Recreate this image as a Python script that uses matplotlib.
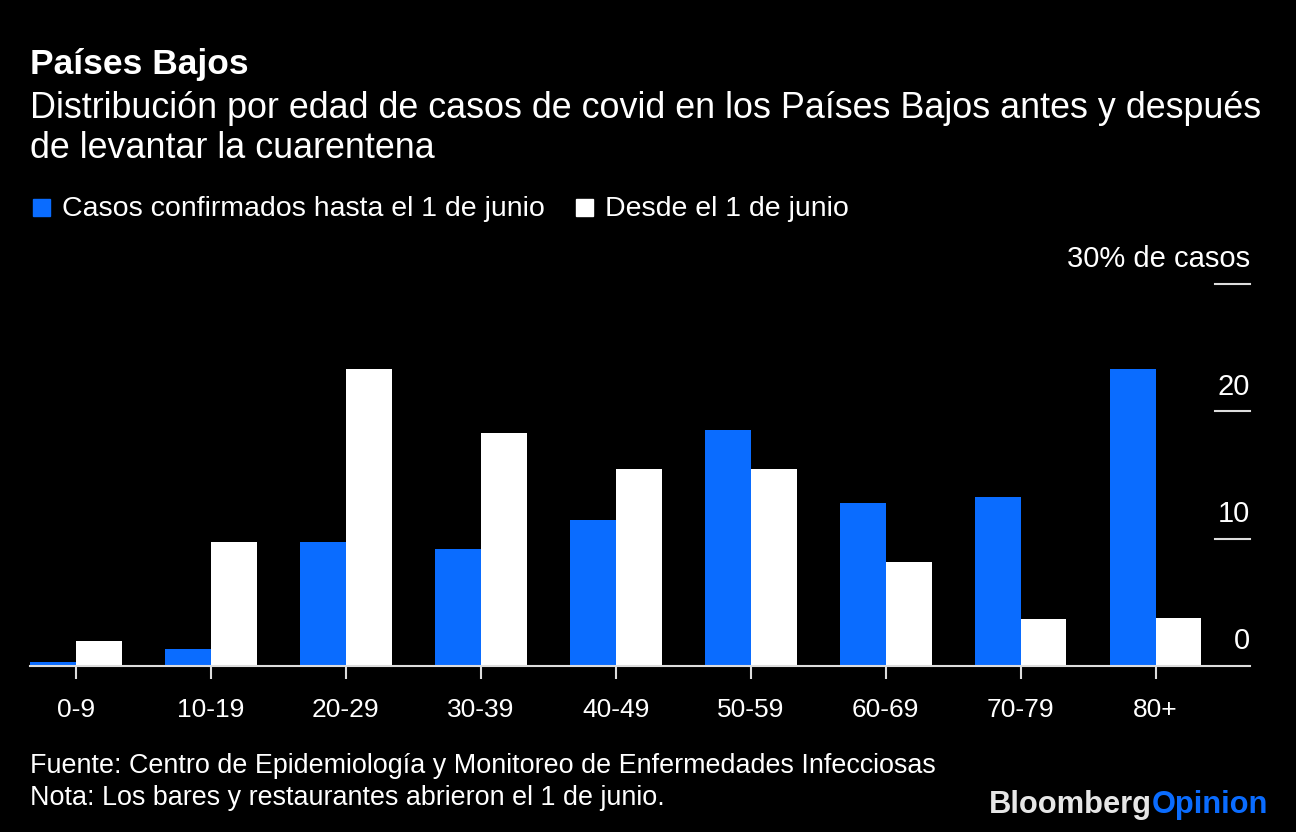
import numpy as np
import matplotlib.pyplot as plt
from matplotlib.transforms import blended_transform_factory, offset_copy

plt.rcParams['font.family'] = ['Liberation Sans', 'DejaVu Sans']

# Data (% of cases by age group)
age_groups = ['0-9', '10-19', '20-29', '30-39', '40-49', '50-59', '60-69', '70-79', '80+']
before_june = [0.3, 1.3, 9.7, 9.2, 11.5, 18.5, 12.8, 13.3, 23.3]
since_june = [2.0, 9.7, 23.3, 18.3, 15.5, 15.5, 8.2, 3.7, 3.8]
y_ticks = [0, 10, 20, 30]
y_labels = ['0', '10', '20', '30% de casos']

BLUE = '#0a6cff'
BG = '#000000'
W, H = 1296, 832

fig = plt.figure(figsize=(W / 100, H / 100), dpi=100, facecolor=BG)
ax = fig.add_axes([30 / W, 1 - 666 / H, 1220 / W, 382 / H])
ax.set_facecolor(BG)

x = np.arange(len(age_groups))
bw = 0.34
ax.bar(x - bw / 2, before_june, width=bw, color=BLUE, zorder=2)
ax.bar(x + bw / 2, since_june, width=bw, color='white', zorder=2)

ax.set_xlim(-0.34, 8.70)
ax.set_ylim(0, 30)

for s in ['top', 'left', 'right']:
    ax.spines[s].set_visible(False)
ax.spines['bottom'].set_color('#dddddd')
ax.spines['bottom'].set_linewidth(1.5)
ax.spines['bottom'].set_zorder(3)

ax.set_xticks(x)
ax.set_xticklabels(age_groups, fontsize=19, color='white')
ax.tick_params(axis='x', length=9, width=1.5, color='#dddddd', pad=14)
ax.set_yticks([])

# short tick lines + labels at right
trans = blended_transform_factory(ax.transAxes, ax.transData)
for v, lab in zip(y_ticks, y_labels):
    if v > 0:
        ax.plot([0.971, 1.0], [v, v], transform=trans, color='#dddddd', lw=1.5, clip_on=False)
    ax.text(1.0, v, lab, transform=offset_copy(trans, fig=fig, y=12, units='points'),
            ha='right', va='baseline', fontsize=21, color='white')

# titles
fig.text(30 / W, 1 - 74 / H, 'Países Bajos', fontsize=25.5, fontweight='bold', color='white', va='baseline')
fig.text(30 / W, 1 - 118 / H, 'Distribución por edad de casos de covid en los Países Bajos antes y después',
         fontsize=25.8, color='white', va='baseline')
fig.text(30 / W, 1 - 158 / H, 'de levantar la cuarentena', fontsize=25.8, color='white', va='baseline')

# legend
fig.patches.append(plt.Rectangle((33 / W, 1 - 216 / H), 17 / W, 17 / H, transform=fig.transFigure,
                                 color=BLUE))
fig.text(62 / W, 1 - 216 / H, 'Casos confirmados hasta el 1 de junio', fontsize=20.5, color='white',
         va='baseline')
fig.patches.append(plt.Rectangle((576 / W, 1 - 216 / H), 17 / W, 17 / H, transform=fig.transFigure,
                                 color='white'))
fig.text(605 / W, 1 - 216 / H, 'Desde el 1 de junio', fontsize=20.5, color='white',
         va='baseline')

# footer
fig.text(30 / W, 1 - 773 / H, 'Fuente: Centro de Epidemiología y Monitoreo de Enfermedades Infecciosas',
         fontsize=19.4, color='white', va='baseline')
fig.text(30 / W, 1 - 805 / H, 'Nota: Los bares y restaurantes abrieron el 1 de junio.',
         fontsize=19.4, color='white', va='baseline')
t = fig.text(1268 / W, 1 - 813 / H, 'Opinion', fontsize=22.2, fontweight='bold', color=BLUE,
             va='baseline', ha='right')
fig.canvas.draw()
bb = t.get_window_extent()
fig.text(bb.x0 / W, 1 - 813 / H, 'Bloomberg', fontsize=22.2, fontweight='bold', color='#e6e6e6',
         va='baseline', ha='right')

fig.savefig('out.png', dpi=100, facecolor=BG)
